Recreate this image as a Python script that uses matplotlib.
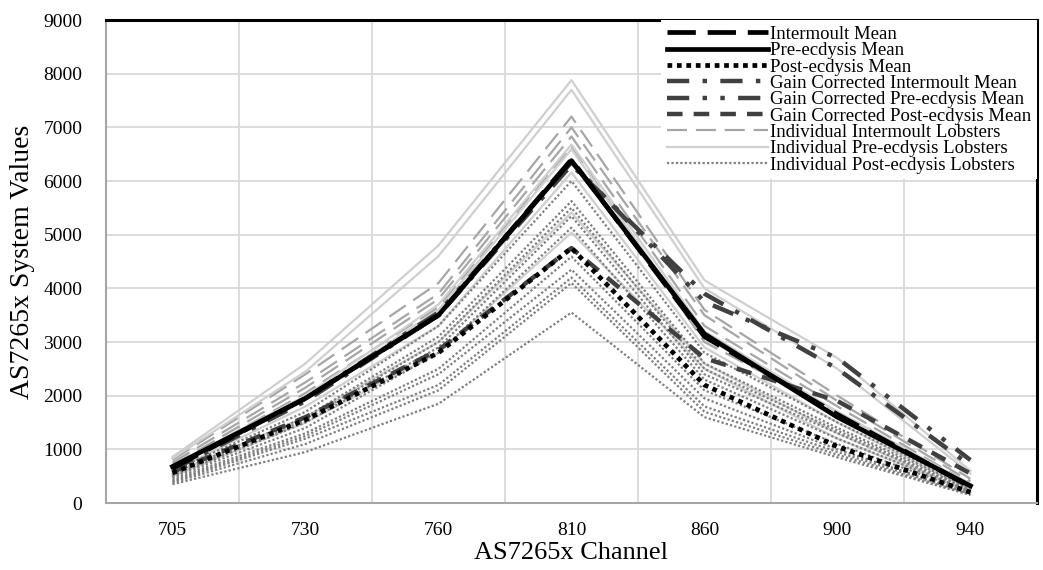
import matplotlib.pyplot as plt

channels = ['705', '730', '760', '810', '860', '900', '940']

# group means
intermoult_mean = [650, 1950, 3500, 6400, 3100, 1650, 300]
pre_mean = [680, 1950, 3500, 6380, 3150, 1600, 320]
post_mean = [560, 1550, 2800, 4750, 2200, 1050, 200]
gc_intermoult_mean = [620, 1900, 3500, 6300, 3900, 2500, 700]
gc_pre_mean = [650, 1950, 3550, 6350, 3750, 2700, 800]
gc_post_mean = [580, 1600, 2850, 4750, 2700, 1900, 550]

# individual lobsters
intermoult_lobsters = [
    [800, 2400, 4100, 7200, 3600, 2000, 450],
    [750, 2250, 3900, 7000, 3500, 1900, 400],
    [700, 2150, 3800, 6830, 3300, 1800, 350],
    [660, 2050, 3650, 6650, 3000, 1700, 330],
]
pre_lobsters = [
    [860, 2600, 4800, 7880, 4150, 2700, 600],
    [830, 2450, 4600, 7700, 4000, 2500, 550],
    [700, 2000, 3700, 6680, 3200, 1700, 350],
    [680, 1950, 3600, 6590, 3100, 1600, 300],
    [600, 1800, 3300, 6160, 2900, 1500, 250],
    [550, 1600, 3000, 5410, 2600, 1300, 200],
    [500, 1500, 2800, 5040, 2500, 1200, 200],
]
post_lobsters = [
    [600, 1700, 3300, 6000, 2800, 1500, 300],
    [550, 1600, 3100, 5625, 2600, 1400, 280],
    [520, 1550, 3000, 5500, 2500, 1350, 250],
    [500, 1500, 2900, 5345, 2400, 1300, 230],
    [480, 1400, 2800, 5130, 2300, 1200, 220],
    [450, 1300, 2500, 4590, 2100, 1100, 200],
    [420, 1250, 2400, 4350, 1950, 1000, 180],
    [400, 1200, 2200, 4200, 1800, 950, 170],
    [380, 1100, 2100, 4100, 1700, 900, 160],
    [350, 950, 1850, 3550, 1600, 850, 150],
]

plt.rcParams['font.family'] = ['Liberation Serif', 'DejaVu Serif']

fig = plt.figure(figsize=(10.43, 5.70), dpi=100)
ax = fig.add_axes([0.1016, 0.1175, 0.8926, 0.8474])
x = range(len(channels))

for i, vals in enumerate(intermoult_lobsters):
    ax.plot(x, vals, color='#a6a6a6', lw=1.6, ls=(0, (9, 4)),
            label='Individual Intermoult Lobsters' if i == 0 else None, zorder=2)
for i, vals in enumerate(pre_lobsters):
    ax.plot(x, vals, color='#cfcfcf', lw=1.6, ls='-',
            label='Individual Pre-ecdysis Lobsters' if i == 0 else None, zorder=2)
for i, vals in enumerate(post_lobsters):
    ax.plot(x, vals, color='#7f7f7f', lw=1.6, ls=(0, (1, 1)),
            label='Individual Post-ecdysis Lobsters' if i == 0 else None, zorder=2)

ax.plot(x, gc_intermoult_mean, color='#404040', lw=3.2, ls=(0, (5, 3, 1, 3)),
        label='Gain Corrected Intermoult Mean', zorder=3)
ax.plot(x, gc_pre_mean, color='#404040', lw=3.2, ls=(0, (5, 3, 1, 3, 1, 3)),
        label='Gain Corrected Pre-ecdysis Mean', zorder=3)
ax.plot(x, gc_post_mean, color='#404040', lw=3.2, ls=(0, (3.5, 2.5)),
        label='Gain Corrected Post-ecdysis Mean', zorder=3)
ax.plot(x, intermoult_mean, color='black', lw=3.4, ls=(0, (6, 2.5)),
        label='Intermoult Mean', zorder=4)
ax.plot(x, pre_mean, color='black', lw=3.4, ls='-',
        label='Pre-ecdysis Mean', zorder=4)
ax.plot(x, post_mean, color='black', lw=3.4, ls=(0, (1, 1)),
        label='Post-ecdysis Mean', zorder=4)

ax.set_xlim(-0.5, len(channels) - 0.5)
ax.set_ylim(0, 9000)
ax.set_xticks(list(x))
ax.set_xticklabels(channels)
ax.set_yticks(range(0, 9001, 1000))
ax.set_xticks([i + 0.5 for i in range(len(channels) - 1)], minor=True)
ax.tick_params(which='both', length=0, labelsize=14)
ax.tick_params(axis='x', pad=14)
ax.tick_params(axis='y', pad=17)
ax.grid(axis='y', color='#d9d9d9', lw=1.3)
ax.grid(axis='x', which='minor', color='#d9d9d9', lw=1.3)
ax.set_axisbelow(True)

for s in ['left', 'bottom']:
    ax.spines[s].set_color('#a6a6a6')
    ax.spines[s].set_linewidth(1.5)
for s in ['top', 'right']:
    ax.spines[s].set_color('black')
    ax.spines[s].set_linewidth(2.2)

ax.set_xlabel('AS7265x Channel', fontsize=19)
ax.xaxis.set_label_coords(0.5, -0.08)
ax.set_ylabel('AS7265x System Values', fontsize=20)
ax.yaxis.set_label_coords(-0.076, 0.5)

handles, labels = ax.get_legend_handles_labels()
order = ['Intermoult Mean', 'Pre-ecdysis Mean', 'Post-ecdysis Mean',
         'Gain Corrected Intermoult Mean', 'Gain Corrected Pre-ecdysis Mean',
         'Gain Corrected Post-ecdysis Mean', 'Individual Intermoult Lobsters',
         'Individual Pre-ecdysis Lobsters', 'Individual Post-ecdysis Lobsters']
lookup = dict(zip(labels, handles))
leg = ax.legend([lookup[l] for l in order], order, loc='upper right',
                bbox_to_anchor=(1.0, 1.0), fontsize=13.5, frameon=True,
                fancybox=False, edgecolor='none', framealpha=1,
                handlelength=5.4, handletextpad=0.1, labelspacing=-0.04,
                borderpad=0.3, borderaxespad=0.0)
leg.set_zorder(10)

plt.savefig('out.png', dpi=100)
